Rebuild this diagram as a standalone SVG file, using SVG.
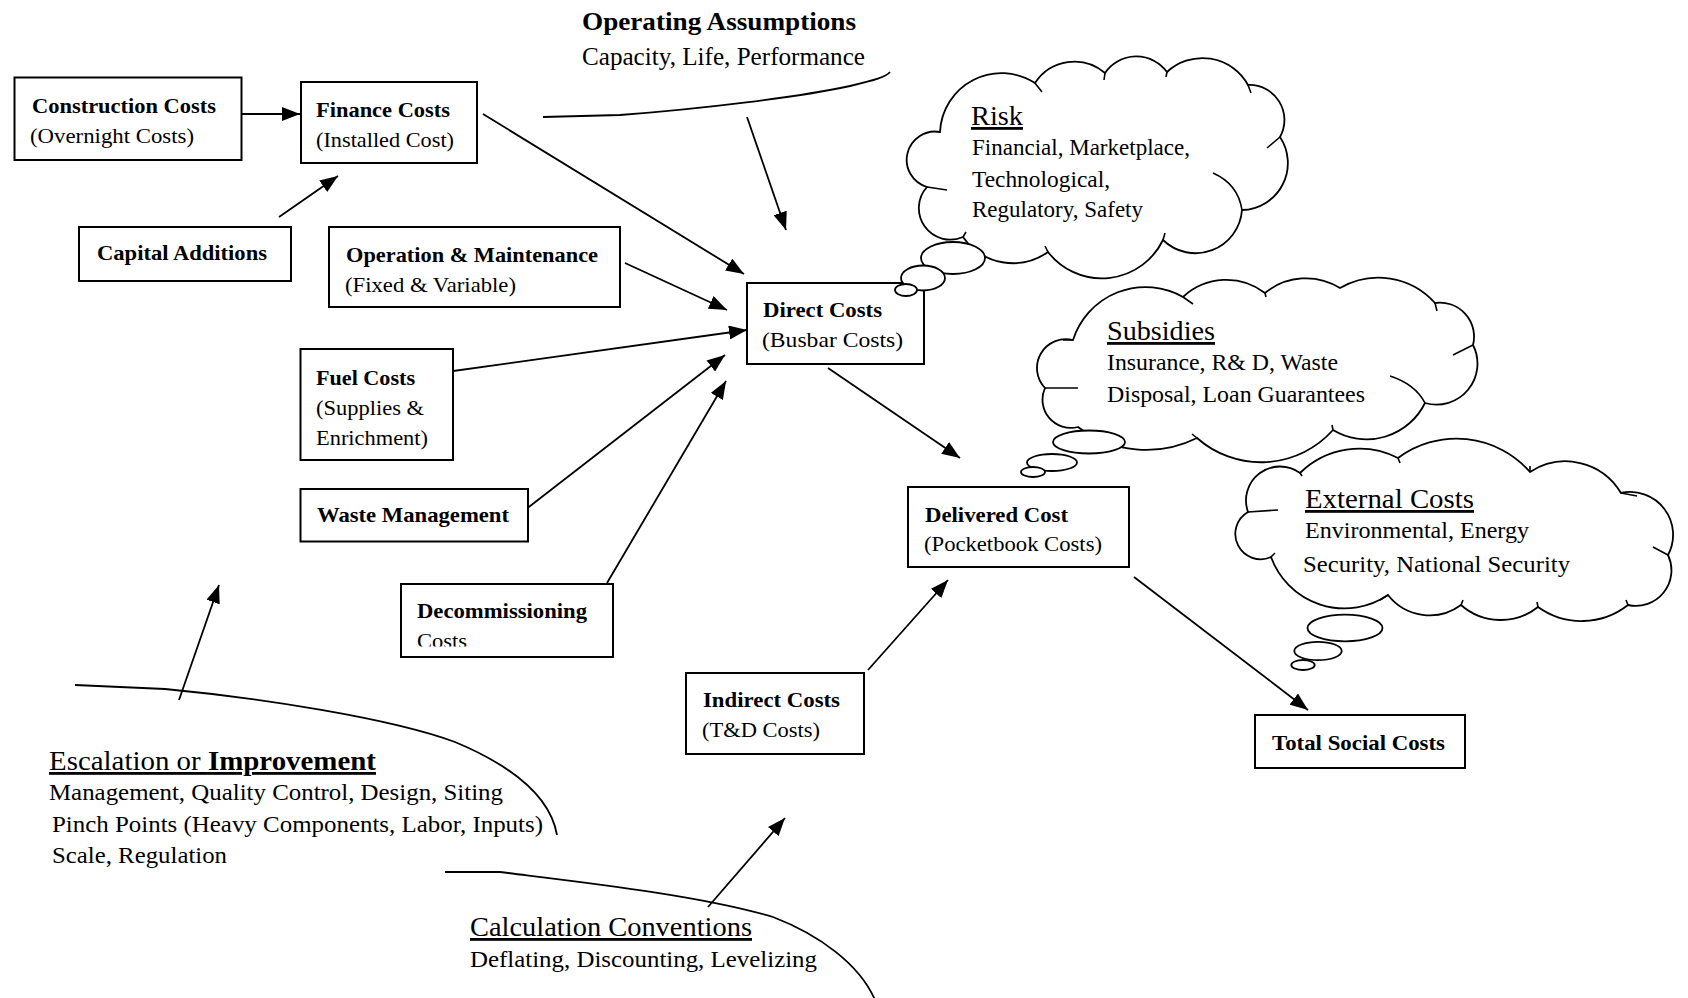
<svg xmlns="http://www.w3.org/2000/svg" width="1688" height="998" viewBox="0 0 1688 998">
<style>
text{font-family:"Liberation Serif","Times New Roman",serif;fill:#000}
.b{font-weight:bold;font-size:22px}
.r{font-size:22px}
.t{font-size:28px;text-decoration:underline}
.c{font-size:23px}
.box{fill:#fff;stroke:#000;stroke-width:2}
.ln{fill:none;stroke:#000;stroke-width:1.8}
.cl{fill:#fff;stroke:#000;stroke-width:1.8}
.tail{fill:none;stroke:#000;stroke-width:1.6}
</style>
<defs>
<marker id="ah" markerWidth="18" markerHeight="14" refX="18" refY="7" orient="auto" markerUnits="userSpaceOnUse"><path d="M0,0 L18,7 L0,14 z" fill="#000"/></marker>
<clipPath id="dclip"><rect x="401" y="620" width="212" height="26.5"/></clipPath>
</defs>
<rect width="1688" height="998" fill="#fff"/>

<g id="connectors">
<line class="ln" x1="242" y1="114" x2="300" y2="114" marker-end="url(#ah)"/>
<line class="ln" x1="279" y1="217" x2="338" y2="176" marker-end="url(#ah)"/>
<line class="ln" x1="483" y1="114" x2="744" y2="274" marker-end="url(#ah)"/>
<line class="ln" x1="747" y1="117" x2="786" y2="230" marker-end="url(#ah)"/>
<line class="ln" x1="625" y1="263" x2="727" y2="310" marker-end="url(#ah)"/>
<line class="ln" x1="446" y1="372" x2="747" y2="330" marker-end="url(#ah)"/>
<line class="ln" x1="525" y1="510" x2="725" y2="355" marker-end="url(#ah)"/>
<line class="ln" x1="607" y1="583" x2="726" y2="381" marker-end="url(#ah)"/>
<line class="ln" x1="828" y1="368" x2="960" y2="458" marker-end="url(#ah)"/>
<line class="ln" x1="868" y1="670" x2="948" y2="580" marker-end="url(#ah)"/>
<line class="ln" x1="1134" y1="577" x2="1308" y2="710" marker-end="url(#ah)"/>
<line class="ln" x1="179" y1="700" x2="219" y2="585" marker-end="url(#ah)"/>
<line class="ln" x1="708" y1="907" x2="785" y2="818" marker-end="url(#ah)"/>
</g>

<g id="construction">
<rect class="box" x="14.5" y="77.5" width="227" height="82.5"/>
<text class="b" x="32" y="113" textLength="184" lengthAdjust="spacingAndGlyphs">Construction Costs</text>
<text class="r" x="30" y="143" textLength="164" lengthAdjust="spacingAndGlyphs">(Overnight Costs)</text>
</g>
<g id="finance">
<rect class="box" x="301" y="82" width="176" height="81"/>
<text class="b" x="316" y="117" textLength="134" lengthAdjust="spacingAndGlyphs">Finance Costs</text>
<text class="r" x="316" y="147" textLength="138" lengthAdjust="spacingAndGlyphs">(Installed Cost)</text>
</g>
<g id="capital">
<rect class="box" x="79" y="227" width="212" height="54"/>
<text class="b" x="97" y="260" textLength="170" lengthAdjust="spacingAndGlyphs">Capital Additions</text>
</g>
<g id="om">
<rect class="box" x="329" y="227" width="291" height="80"/>
<text class="b" x="346" y="262" textLength="252" lengthAdjust="spacingAndGlyphs">Operation &amp; Maintenance</text>
<text class="r" x="345" y="292" textLength="171" lengthAdjust="spacingAndGlyphs">(Fixed &amp; Variable)</text>
</g>
<g id="fuel">
<rect class="box" x="300.5" y="349" width="152.5" height="111"/>
<text class="b" x="316" y="385" textLength="99" lengthAdjust="spacingAndGlyphs">Fuel Costs</text>
<text class="r" x="316" y="415" textLength="108" lengthAdjust="spacingAndGlyphs">(Supplies &amp;</text>
<text class="r" x="316" y="445" textLength="112" lengthAdjust="spacingAndGlyphs">Enrichment)</text>
</g>
<g id="waste">
<rect class="box" x="300.5" y="489" width="227.5" height="52.5"/>
<text class="b" x="317" y="522" textLength="192" lengthAdjust="spacingAndGlyphs">Waste Management</text>
</g>
<g id="decommissioning">
<rect class="box" x="401" y="584" width="212" height="73"/>
<text class="b" x="417" y="618" textLength="170" lengthAdjust="spacingAndGlyphs">Decommissioning</text>
<text class="r" x="417" y="648" textLength="50" lengthAdjust="spacingAndGlyphs" clip-path="url(#dclip)">Costs</text>
</g>
<g id="direct">
<rect class="box" x="747" y="283" width="177" height="81"/>
<text class="b" x="763" y="317" textLength="119" lengthAdjust="spacingAndGlyphs">Direct Costs</text>
<text class="r" x="762" y="347" textLength="141" lengthAdjust="spacingAndGlyphs">(Busbar Costs)</text>
</g>
<g id="delivered">
<rect class="box" x="908" y="487" width="221" height="80"/>
<text class="b" x="925" y="522" textLength="143" lengthAdjust="spacingAndGlyphs">Delivered Cost</text>
<text class="r" x="924" y="551" textLength="178" lengthAdjust="spacingAndGlyphs">(Pocketbook Costs)</text>
</g>
<g id="indirect">
<rect class="box" x="686" y="673" width="178" height="81"/>
<text class="b" x="703" y="707" textLength="137" lengthAdjust="spacingAndGlyphs">Indirect Costs</text>
<text class="r" x="702" y="737" textLength="118" lengthAdjust="spacingAndGlyphs">(T&amp;D Costs)</text>
</g>
<g id="totalsocial">
<rect class="box" x="1255" y="715" width="210" height="53"/>
<text class="b" x="1272" y="750" textLength="173" lengthAdjust="spacingAndGlyphs">Total Social Costs</text>
</g>

<g id="operating">
<path class="ln" d="M543,117 L620,115 C700,109 800,97 850,86 C875,80 886,77 890,72"/>
<text x="582" y="30" style="font-weight:bold;font-size:25px" textLength="274" lengthAdjust="spacingAndGlyphs">Operating Assumptions</text>
<text x="582" y="65" style="font-size:25px" textLength="283" lengthAdjust="spacingAndGlyphs">Capacity, Life, Performance</text>
</g>

<g id="risk">
<path class="cl" d="M940,132 A61.6,61.6 0 0 1 1035,83 A47,47 0 0 1 1105,73 A38,38 0 0 1 1167,72 A52,52 0 0 1 1248,85 A35,35 0 0 1 1280,137 A47,47 0 0 1 1242,210 A46.6,46.6 0 0 1 1163,240 A68,68 0 0 1 1048,252 A60.7,60.7 0 0 1 963,237 A31.5,31.5 0 0 1 927,187 A28.3,28.3 0 0 1 940,132 Z"/>
<path class="tail" d="M1035,83 L1042,92 M1105,73 L1104,80 M1167,72 L1166,77 M1248,85 L1251,93 M1280,137 L1267,148 M1213,173 Q1238,184 1242,210 M1163,240 L1165,233 M1048,252 L1045,246 M963,237 L966,232 M927,187 L947,190"/>
<ellipse class="cl" cx="953" cy="258" rx="32" ry="16"/>
<ellipse class="cl" cx="923" cy="278" rx="22" ry="12.5"/>
<ellipse class="cl" cx="906" cy="290" rx="11" ry="6"/>
<text class="t" x="971" y="125" textLength="52" lengthAdjust="spacingAndGlyphs">Risk</text>
<text class="c" x="972" y="155" textLength="218" lengthAdjust="spacingAndGlyphs">Financial, Marketplace,</text>
<text class="c" x="972" y="187" textLength="138" lengthAdjust="spacingAndGlyphs">Technological,</text>
<text class="c" x="972" y="217" textLength="171" lengthAdjust="spacingAndGlyphs">Regulatory, Safety</text>
</g>

<g id="subsidies">
<path class="cl" d="M1073,340 A76,76 0 0 1 1183,297 A63.5,63.5 0 0 1 1265,293 A64.6,64.6 0 0 1 1340,288 A76,76 0 0 1 1435,303 A34,34 0 0 1 1473,345 A41,41 0 0 1 1425,403 A65,65 0 0 1 1333,430 A96.6,96.6 0 0 1 1197,438 A113.5,113.5 0 0 1 1078,427 A28.3,28.3 0 0 1 1045,388 A28.9,28.9 0 0 1 1073,340 Z"/>
<path class="tail" d="M1045,388 L1078,388 M1063,340 L1073,340 M1183,297 L1193,304 M1265,293 L1266,297 M1435,303 L1437,311 M1473,345 L1453,355 M1390,376 Q1415,384 1425,403 M1333,430 L1332,425 M1197,438 L1192,434"/>
<ellipse class="cl" cx="1089" cy="442" rx="36" ry="11.5"/>
<ellipse class="cl" cx="1052" cy="462.5" rx="25" ry="8.5"/>
<ellipse class="cl" cx="1033" cy="472" rx="12" ry="5"/>
<text class="t" x="1107" y="340" textLength="108" lengthAdjust="spacingAndGlyphs">Subsidies</text>
<text class="c" x="1107" y="370" textLength="231" lengthAdjust="spacingAndGlyphs">Insurance, R&amp; D, Waste</text>
<text class="c" x="1107" y="402" textLength="258" lengthAdjust="spacingAndGlyphs">Disposal, Loan Guarantees</text>
</g>

<g id="external">
<path class="cl" d="M1248,512 A34,34 0 0 1 1300,473 A84.6,84.6 0 0 1 1398,458 A97.7,97.7 0 0 1 1530,472 A64.5,64.5 0 0 1 1621,493 A42.8,42.8 0 0 1 1668,555 A35.6,35.6 0 0 1 1628,605 A75,75 0 0 1 1538,607 A60,60 0 0 1 1461,605 A52.8,52.8 0 0 1 1388,595 A78,78 0 0 1 1271,557 A25.3,25.3 0 0 1 1248,512 Z"/>
<path class="tail" d="M1248,512 L1278,510 M1271,557 L1275,553 M1300,473 L1302,476 M1398,458 L1400,463 M1530,472 L1530,466 M1621,493 L1637,496 M1653,547 L1668,555 M1628,605 L1626,600 M1538,607 L1537,602 M1461,605 L1463,600 M1388,595 L1380,600"/>
<ellipse class="cl" cx="1345" cy="628" rx="37.5" ry="13.3"/>
<ellipse class="cl" cx="1318" cy="651" rx="23.7" ry="9.2"/>
<ellipse class="cl" cx="1303" cy="665" rx="11.7" ry="5"/>
<text class="t" x="1305" y="508" textLength="169" lengthAdjust="spacingAndGlyphs">External Costs</text>
<text class="c" x="1305" y="538" textLength="224" lengthAdjust="spacingAndGlyphs">Environmental, Energy</text>
<text class="c" x="1303" y="572" textLength="267" lengthAdjust="spacingAndGlyphs">Security, National Security</text>
</g>

<g id="escalation">
<path class="ln" d="M75,685 L165,689 C260,698 390,718 455,742 C510,765 550,795 557,835"/>
<text class="t" x="49" y="770" textLength="327" lengthAdjust="spacingAndGlyphs">Escalation or <tspan font-weight="bold">Improvement</tspan></text>
<text class="c" x="49" y="800" textLength="454" lengthAdjust="spacingAndGlyphs">Management, Quality Control, Design, Siting</text>
<text class="c" x="52" y="832" textLength="491" lengthAdjust="spacingAndGlyphs">Pinch Points (Heavy Components, Labor, Inputs)</text>
<text class="c" x="52" y="863" textLength="175" lengthAdjust="spacingAndGlyphs">Scale, Regulation</text>
</g>

<g id="calculation">
<path class="ln" d="M445,872 L500,872 C580,882 700,895 773,917 C820,935 860,965 875,1000"/>
<text class="t" x="470" y="936" textLength="282" lengthAdjust="spacingAndGlyphs">Calculation Conventions</text>
<text class="c" x="470" y="967" textLength="347" lengthAdjust="spacingAndGlyphs">Deflating, Discounting, Levelizing</text>
</g>
</svg>
